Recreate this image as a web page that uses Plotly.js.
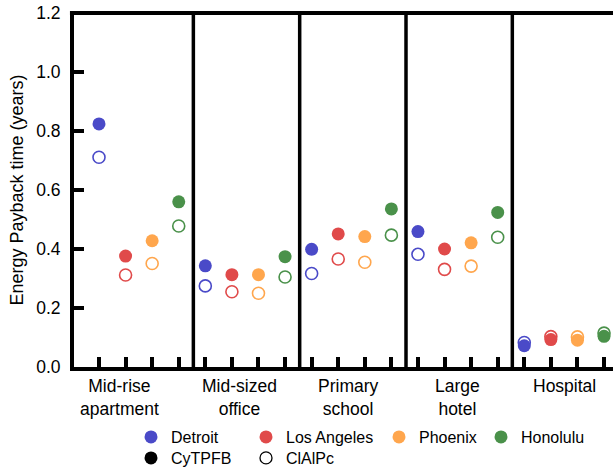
<!DOCTYPE html>
<html>
<head>
<meta charset="utf-8">
<script src="https://cdn.plot.ly/plotly-3.0.1.min.js"></script>
<style>
  html, body { margin: 0; padding: 0; background: #ffffff; }
  #chart { width: 613px; height: 467px; }
</style>
</head>
<body>
<div id="chart"></div>
<script>
// Building types (one panel each) and climate locations (one marker column each)
const buildings = ["Mid-rise<br>apartment", "Mid-sized<br>office", "Primary<br>school", "Large<br>hotel", "Hospital"];
const cities = ["Detroit", "Los Angeles", "Phoenix", "Honolulu"];

// Energy payback time (years), CyTPFB devices, per building type
const detroitCyTPFB  = [0.824, 0.343, 0.399, 0.459, 0.072];
const laCyTPFB       = [0.376, 0.313, 0.451, 0.400, 0.093];
const phoenixCyTPFB  = [0.428, 0.313, 0.442, 0.421, 0.091];
const honoluluCyTPFB = [0.560, 0.374, 0.536, 0.524, 0.104];

// Energy payback time (years), ClAlPc devices, per building type
const detroitClAlPc  = [0.711, 0.275, 0.317, 0.382, 0.083];
const laClAlPc       = [0.312, 0.255, 0.366, 0.331, 0.103];
const phoenixClAlPc  = [0.351, 0.250, 0.355, 0.342, 0.102];
const honoluluClAlPc = [0.478, 0.305, 0.447, 0.440, 0.115];

const yTickVals = [0, 0.2, 0.4, 0.6, 0.8, 1.0, 1.2];
const yTickText = ["0.0", "0.2", "0.4", "0.6", "0.8", "1.0", "1.2"];

// ---- styling ----
const cityColors = ["rgb(74,74,200)", "rgb(224,74,74)", "rgb(255,166,77)", "rgb(74,145,74)"];
const FONT = "Liberation Sans, Arial, Helvetica, sans-serif";
const filledSeries = [detroitCyTPFB, laCyTPFB, phoenixCyTPFB, honoluluCyTPFB];
const openSeries = [detroitClAlPc, laClAlPc, phoenixClAlPc, honoluluClAlPc];
const slotsPerGroup = cities.length;
const legendIds = ["legend", "legend2", "legend3", "legend4"];

// slot position of a city inside a building panel
const slotX = c => buildings.map((_, b) => b * slotsPerGroup + c);

const traces = [];
// hollow markers first so filled markers sit on top where they overlap
cities.forEach((city, c) => {
  traces.push({
    type: "scatter", mode: "markers", name: city + " ClAlPc",
    x: slotX(c), y: openSeries[c],
    marker: { symbol: "circle-open", size: 12, color: cityColors[c], line: { width: 1.6, color: cityColors[c] } },
    showlegend: false, hoverinfo: "skip"
  });
});
cities.forEach((city, c) => {
  traces.push({
    type: "scatter", mode: "markers", name: city,
    x: slotX(c), y: filledSeries[c],
    marker: { symbol: "circle", size: 13, color: cityColors[c] },
    legend: legendIds[c], hoverinfo: "skip"
  });
});
// device-type key entries
traces.push({ type: "scatter", mode: "markers", name: "CyTPFB", x: [null], y: [null],
  marker: { symbol: "circle", size: 13, color: "#000" }, legend: "legend5" });
traces.push({ type: "scatter", mode: "markers", name: "ClAlPc", x: [null], y: [null],
  marker: { symbol: "circle-open", size: 12, color: "#000", line: { width: 1.3, color: "#000" } }, legend: "legend6" });

const W = 613, H = 467;
const legendSpec = (px, py) => ({
  x: px / W, y: 1 - py / H, xref: "container", yref: "container",
  xanchor: "left", yanchor: "middle", orientation: "h",
  bgcolor: "rgba(0,0,0,0)", borderwidth: 0,
  font: { family: FONT, size: 16, color: "#000" }
});

// panel separators between building groups
const shapes = [];
for (let b = 1; b < buildings.length; b++) {
  shapes.push({ type: "line", xref: "x", yref: "paper", x0: b * slotsPerGroup - 0.45, x1: b * slotsPerGroup - 0.45,
    y0: 0, y1: 1, line: { color: "#000", width: 3.5 } });
}
shapes.push({ type: "line", xref: "paper", yref: "paper", x0: -0.0075, x1: 1, y0: 1, y1: 1,
  line: { color: "#000", width: 4 } });

const labelShift = [-19, -6, -3, 0, 0];
const annotations = buildings.map((name, b) => ({
  x: b * slotsPerGroup + (slotsPerGroup - 1) / 2, xref: "x",
  y: 0, yref: "paper", yanchor: "top", yshift: -7, xshift: labelShift[b],
  text: name, showarrow: false, align: "center",
  font: { family: FONT, size: 17.5, color: "#000" }
}));

const layout = {
  width: W, height: H,
  margin: { l: 74, r: 0, t: 13, b: 100, pad: 0 },
  paper_bgcolor: "#fff", plot_bgcolor: "#fff",
  font: { family: FONT, color: "#000" },
  xaxis: {
    range: [-0.9406, 19.338],
    tickmode: "array", tickvals: buildings.flatMap((_, b) => cities.map((_, c) => b * slotsPerGroup + c)),
    showticklabels: false, ticks: "inside", ticklen: 10, tickwidth: 4, tickcolor: "#000",
    showline: true, linewidth: 4, linecolor: "#000",
    showgrid: false, zeroline: false, fixedrange: true
  },
  yaxis: {
    range: [0, 1.2],
    tickmode: "array", tickvals: yTickVals, ticktext: yTickText,
    ticks: "inside", ticklen: 10, tickwidth: 4, tickcolor: "#000",
    ticklabelstandoff: 6,
    tickfont: { family: FONT, size: 17.5, color: "#000" },
    showline: true, linewidth: 4, linecolor: "#000",
    showgrid: false, zeroline: false, fixedrange: true,
    title: { text: "Energy Payback time (years)", font: { family: FONT, size: 18, color: "#000" }, standoff: 9 }
  },
  legend: legendSpec(131, 437),
  legend2: legendSpec(246, 437),
  legend3: legendSpec(379, 437),
  legend4: legendSpec(481, 437),
  legend5: legendSpec(131, 458),
  legend6: legendSpec(246, 458),
  shapes: shapes,
  annotations: annotations,
  showlegend: true
};

Plotly.newPlot("chart", traces, layout, { displayModeBar: false, staticPlot: true });
</script>
</body>
</html>
